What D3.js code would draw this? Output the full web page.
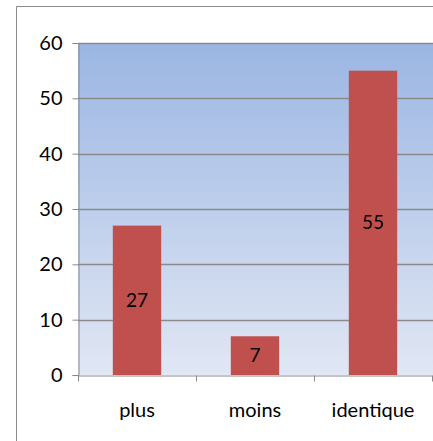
<!DOCTYPE html>
<html><head><meta charset="utf-8">
<script src="https://cdn.jsdelivr.net/npm/d3@7"></script>
<style>body{margin:0;background:#fff}svg{display:block}</style>
</head><body>
<svg id="c" width="433" height="441"></svg>
<script>
const categories = ["plus", "moins", "identique"];
const values = [27, 7, 55];
const yTicks = [0, 10, 20, 30, 40, 50, 60];

const svg = d3.select("#c");
const font = "Lato, 'Open Sans', sans-serif";
const m = {l: 78, t: 43, r: 432, b: 375};

// outer border
svg.append("line").attr("x1", 16.5).attr("x2", 433).attr("y1", 6.5).attr("y2", 6.5).attr("stroke", "#8c8c8c").attr("stroke-width", 1);
svg.append("line").attr("x1", 16.5).attr("x2", 16.5).attr("y1", 6.5).attr("y2", 441).attr("stroke", "#8c8c8c").attr("stroke-width", 1);

const x = d3.scaleBand().domain(categories).range([m.l, m.r]).paddingInner(0.59).paddingOuter(0.295);
const xb = d3.scaleBand().domain(categories).range([m.l, m.r]);
const y = d3.scaleLinear().domain([0, 60]).range([m.b, m.t]);

const defs = svg.append("defs");
const g = defs.append("linearGradient").attr("id", "bg").attr("x1", 0).attr("y1", 0).attr("x2", 0).attr("y2", 1);
g.append("stop").attr("offset", "0%").attr("stop-color", "#9bb6e3");
g.append("stop").attr("offset", "100%").attr("stop-color", "#e1e7f4");

svg.append("rect").attr("x", m.l).attr("y", m.t).attr("width", m.r - m.l + 1).attr("height", m.b - m.t).attr("fill", "url(#bg)");

// gridlines
svg.append("g").selectAll("line").data(yTicks.filter(d => d > 0)).join("line")
  .attr("x1", m.l).attr("x2", 433).attr("y1", d => Math.round(y(d)) + 0.5).attr("y2", d => Math.round(y(d)) + 0.5)
  .attr("stroke", "#8a8a8a").attr("stroke-width", 1.3);

// y axis
const ya = svg.append("g").attr("transform", `translate(${m.l + 0.5},0)`)
  .call(d3.axisLeft(y).tickValues(yTicks).tickSize(6).tickPadding(10));
ya.select(".domain").attr("stroke", "#8a8a8a");
ya.selectAll(".tick line").attr("stroke", "#8a8a8a");
ya.selectAll("text").attr("font-family", font).attr("font-size", 20).attr("fill", "#000");

// bars
svg.append("g").selectAll("rect").data(values).join("rect")
  .attr("x", (d, i) => x(categories[i])).attr("width", x.bandwidth())
  .attr("y", d => y(d)).attr("height", d => y(0) - y(d)).attr("fill", "#c0504d");

// x axis
const xa = svg.append("g").attr("transform", `translate(0,${m.b + 0.5})`)
  .call(d3.axisBottom(xb).tickSize(0).tickPadding(27));
xa.select(".domain").attr("stroke", "#8a8a8a");
xa.selectAll("text").attr("font-family", font).attr("font-size", 20).attr("fill", "#000");
xa.append("g").selectAll("line").data(d3.range(categories.length + 1)).join("line")
  .attr("x1", i => Math.round(m.l + i * xb.step()) + 0.5).attr("x2", i => Math.round(m.l + i * xb.step()) + 0.5)
  .attr("y1", 0).attr("y2", 6).attr("stroke", "#8a8a8a");

// value labels
svg.append("g").selectAll("text").data(values).join("text")
  .attr("x", (d, i) => x(categories[i]) + x.bandwidth() / 2)
  .attr("y", d => (y(d) + y(0)) / 2)
  .attr("dy", "0.35em").attr("text-anchor", "middle")
  .attr("font-family", font).attr("font-size", 19).attr("fill", "#000")
  .text(d => d);
</script>
</body></html>
